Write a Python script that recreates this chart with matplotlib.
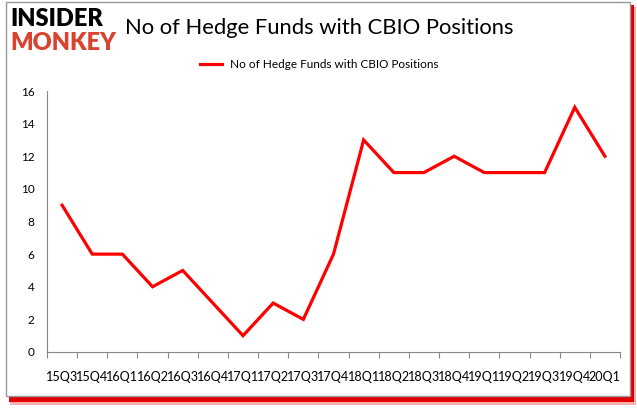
import matplotlib
matplotlib.use("Agg")
import matplotlib.pyplot as plt
from matplotlib.patches import Rectangle
from matplotlib.lines import Line2D

quarters = ["15Q3", "15Q4", "16Q1", "16Q2", "16Q3", "16Q4", "17Q1", "17Q2", "17Q3", "17Q4",
            "18Q1", "18Q2", "18Q3", "18Q4", "19Q1", "19Q2", "19Q3", "19Q4", "20Q1"]
funds = [9, 6, 6, 4, 5, 3, 1, 3, 2, 6, 13, 11, 11, 12, 11, 11, 11, 15, 12]
series_name = "No of Hedge Funds with CBIO Positions"
title = "No of Hedge Funds with CBIO Positions"
yticks = [0, 2, 4, 6, 8, 10, 12, 14, 16]

plt.rcParams["font.family"] = ["Lato", "DejaVu Sans"]

W, H = 637, 408
fig = plt.figure(figsize=(W / 100, H / 100), dpi=100)
fig.patch.set_facecolor("white")

# frame with red shadow
fig.add_artist(Rectangle((10 / W, 1 - 405 / H), 626 / W, 398 / H, transform=fig.transFigure,
                         facecolor="#f4b0b0", edgecolor="none", zorder=0))
fig.add_artist(Rectangle((9 / W, 1 - 402 / H), 625 / W, 397 / H, transform=fig.transFigure,
                         facecolor="#e00000", edgecolor="none", zorder=0))
fig.add_artist(Rectangle((6 / W, 1 - 396 / H), 624 / W, 394 / H, transform=fig.transFigure,
                         facecolor="white", edgecolor="#999999", linewidth=1, zorder=0))

ax = fig.add_axes([47 / W, 1 - 352 / H, (620 - 47) / W, (352 - 91) / H])
x = list(range(len(quarters)))
ax.plot(x, funds, color="#ff0000", linewidth=2.3, solid_joinstyle="miter")
ax.set_xlim(-0.5, len(quarters) - 0.5)
ax.set_ylim(0, 16)
ax.set_yticks(yticks)
ax.set_yticklabels([str(v) for v in yticks], fontsize=8.5)
ax.set_xticks([i - 0.5 for i in range(len(quarters) + 1)], minor=False)
ax.set_xticklabels([])
ax.set_xticks(x, minor=True)
ax.set_xticklabels(quarters, minor=True, fontsize=9.1)
ax.tick_params(axis="x", which="minor", length=0, pad=14)
ax.tick_params(axis="x", which="major", direction="out", length=4, color="#888888")
ax.tick_params(axis="y", length=0, pad=9)
for s in ["top", "right"]:
    ax.spines[s].set_visible(False)
ax.spines["left"].set_color("#888888")
ax.spines["bottom"].set_color("#888888")
ax.patch.set_alpha(0)

fig.text(125 / W, 1 - 28 / H, title, fontsize=15.8, va="center", ha="left", color="black")

# legend
fig.add_artist(Line2D([200 / W, 222 / W], [1 - 64 / H, 1 - 64 / H], transform=fig.transFigure,
                      color="#ff0000", linewidth=2.3))
fig.text(230 / W, 1 - 64 / H, series_name, fontsize=8.5, va="center", ha="left")

# logo
fig.text(10 / W, 1 - 19 / H, "INSIDER", fontsize=17, fontweight="heavy", color="black",
         va="center", ha="left")
fig.text(10 / W, 1 - 43 / H, "MONKEY", fontsize=17, fontweight="heavy", color="#d9432f",
         va="center", ha="left")

fig.savefig("out.png", dpi=100)
